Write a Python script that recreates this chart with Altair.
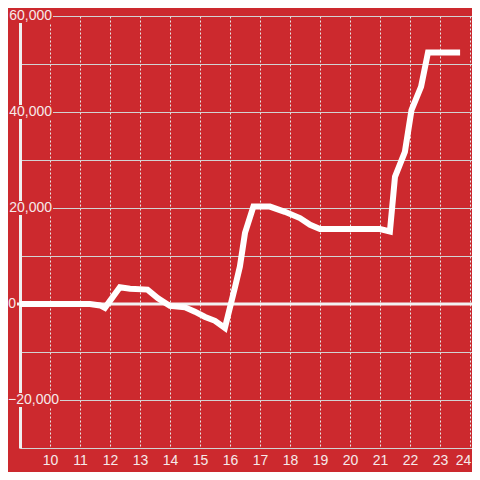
import altair as alt
import pandas as pd

# Series values (hour of day, value)
hours = [9, 11.33, 11.67, 11.83, 12.33, 12.67, 13.25, 13.6, 14.0, 14.5, 14.83,
         15.17, 15.5, 15.83, 16.17, 16.33, 16.5, 16.78, 17.33, 17.83, 18.33,
         18.67, 19.0, 20.0, 21.0, 21.33, 21.5, 21.83, 22.05, 22.37, 22.6, 23.67]
values = [0, 0, -300, -800, 3500, 3200, 3000, 1200, -400, -700, -1600,
          -2700, -3500, -5000, 3600, 7800, 14800, 20300, 20300, 19200, 17900,
          16500, 15600, 15600, 15600, 15100, 26500, 31700, 40400, 45300, 52400, 52400]

x_ticks = list(range(10, 25))
y_grid = [-30000, -20000, -10000, 0, 10000, 20000, 30000, 40000, 50000, 60000]
y_labels = [-20000, 0, 20000, 40000, 60000]

BG = "#cc292e"
TXT = "#f6eaea"
GRID = "#d2d2d2"
FONT = "Liberation Sans"

df = pd.DataFrame({"h": hours, "v": values})
lab = pd.DataFrame({"v": y_labels})

xs = alt.Scale(domain=[9, 24.0667], nice=False, zero=False)
ys = alt.Scale(domain=[-30000, 60000], nice=False, zero=False)

line = alt.Chart(df).mark_line(color="white", strokeWidth=6, strokeJoin="miter").encode(
    x=alt.X("h:Q", scale=xs, axis=alt.Axis(
        values=x_ticks, grid=True, gridDash=[2, 2], gridColor="#e6e6e6", gridWidth=1,
        domain=True, domainColor=GRID, domainWidth=1, ticks=False,
        labelFontSize=14, labelColor=TXT, labelFont=FONT, labelPadding=5,
        labelOffset={"condition": {"test": "datum.value == 24", "value": -7}, "value": 0},
        title=None)),
    y=alt.Y("v:Q", scale=ys, axis=alt.Axis(
        values=y_grid, grid=True, gridColor=GRID, gridWidth=1,
        domain=True, domainColor="#f0f0f0", domainWidth=3, ticks=False,
        labels=False, title=None)),
)

zero_line = alt.Chart(lab).transform_filter("datum.v == 0").mark_rule(
    color="#f2f2f2", strokeWidth=3).encode(
    y=alt.Y("v:Q", scale=ys), x=alt.value(-3), x2=alt.value(452))

boxes_pos = alt.Chart(lab).transform_filter("datum.v > 0").mark_rule(
    color=BG, strokeWidth=14).encode(
    y=alt.Y("v:Q", scale=ys), x=alt.value(-6), x2=alt.value(33))

boxes_neg = alt.Chart(lab).transform_filter("datum.v < 0").mark_rule(
    color=BG, strokeWidth=14).encode(
    y=alt.Y("v:Q", scale=ys), x=alt.value(-6), x2=alt.value(40))

labels_pos = alt.Chart(lab).transform_filter("datum.v > 0").mark_text(
    align="right", baseline="middle", fontSize=14, font=FONT, color=TXT).encode(
    y=alt.Y("v:Q", scale=ys), x=alt.value(32), text=alt.Text("v:Q", format=","))

labels_neg = alt.Chart(lab).transform_filter("datum.v < 0").mark_text(
    align="right", baseline="middle", fontSize=14, font=FONT, color=TXT).encode(
    y=alt.Y("v:Q", scale=ys), x=alt.value(39), text=alt.Text("v:Q", format=","))

zero_label = alt.Chart(lab).transform_filter("datum.v == 0").mark_text(
    align="right", baseline="middle", fontSize=14, font=FONT, color=TXT).encode(
    y=alt.Y("v:Q", scale=ys), x=alt.value(-4), text=alt.Text("v:Q", format=","))

chart = alt.layer(zero_line, boxes_pos, boxes_neg, labels_pos, labels_neg,
                  zero_label, line).properties(
    width=452, height=432,
    autosize=alt.AutoSizeParams(type="none"),
    padding={"left": 12, "top": 8, "right": 0, "bottom": 24},
    background=BG,
).configure_view(stroke=None)

chart.save("out.html", embed_options={"renderer": "svg", "actions": False})
